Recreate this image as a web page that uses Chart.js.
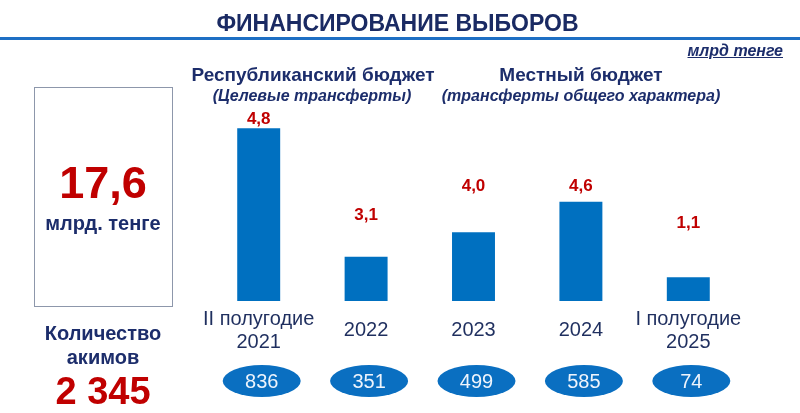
<!DOCTYPE html>
<html lang="ru">
<head>
<meta charset="utf-8">
<script src="https://cdn.jsdelivr.net/npm/chart.js@4.4.1/dist/chart.umd.min.js"></script>
<style>
  html, body { margin: 0; padding: 0; background: #ffffff; }
  #wrap { position: relative; width: 800px; height: 413px; overflow: hidden; font-family: "Liberation Sans", Arial, sans-serif; }
  #wrap canvas { position: absolute; left: 0; top: 0; }
  .t { position: absolute; white-space: nowrap; text-align: center; color: #1c2d6b; font-weight: bold; }
</style>
</head>
<body>
<div id="wrap">
  <canvas id="c" width="800" height="413"></canvas>
  <div class="t" style="left:0;width:795px;top:9px;line-height:28px;font-size:23px;color:#1a2a63;">ФИНАНСИРОВАНИЕ ВЫБОРОВ</div>
  <div style="position:absolute;left:0;top:37px;width:800px;height:3px;background:#1e6fc4;"></div>
  <div class="t" style="right:17px;top:41px;line-height:20px;font-size:16px;font-style:italic;text-decoration:underline;">млрд тенге</div>

  <div style="position:absolute;left:34px;top:87px;width:139px;height:220px;box-sizing:border-box;border:1px solid #8d97ab;"></div>
  <div class="t" style="left:3px;width:200px;top:158px;line-height:50px;font-size:45px;color:#c00000;">17,6</div>
  <div class="t" style="left:3px;width:200px;top:211px;line-height:24px;font-size:20px;">млрд. тенге</div>
  <div class="t" style="left:3px;width:200px;top:321px;line-height:24px;font-size:20px;">Количество</div>
  <div class="t" style="left:3px;width:200px;top:345px;line-height:24px;font-size:20px;">акимов</div>
  <div class="t" style="left:3px;width:200px;top:370px;line-height:42px;font-size:38px;color:#c00000;">2 345</div>

  <div class="t" style="left:113px;width:400px;top:63px;line-height:23px;font-size:19px;">Республиканский бюджет</div>
  <div class="t" style="left:112px;width:400px;top:86px;line-height:20px;font-size:16px;font-style:italic;">(Целевые трансферты)</div>
  <div class="t" style="left:381px;width:400px;top:63px;line-height:23px;font-size:19px;">Местный бюджет</div>
  <div class="t" style="left:381px;width:400px;top:86px;line-height:20px;font-size:16px;font-style:italic;">(трансферты общего характера)</div>
</div>
<script>
// Periods (x categories)
const periods = [["II полугодие", "2021"], "2022", "2023", "2024", ["I полугодие", "2025"]];
// Printed funding amounts, billion tenge
const amounts = [4.8, 3.1, 4.0, 4.6, 1.1];
// Bar heights as drawn in the reference slide (not to scale with the printed amounts), same units
const drawnHeights = [4.80, 1.23, 1.91, 2.76, 0.66];
// Number of akims per period
const akims = [836, 351, 499, 585, 74];

const FONT = '"Liberation Sans", Arial, sans-serif';

const fmt = v => v.toFixed(1).replace('.', ',');

const labelsPlugin = {
  id: 'slideLabels',
  afterDatasetsDraw(chart, args, opts) {
    const ctx = chart.ctx;
    const meta = chart.getDatasetMeta(0);
    ctx.save();
    ctx.font = 'bold 17px ' + FONT;
    ctx.fillStyle = '#c00000';
    ctx.textAlign = 'center';
    ctx.textBaseline = 'middle';
    meta.data.forEach((bar, i) => {
      ctx.fillText(fmt(amounts[i]), bar.x, bar.y - opts.lift[i]);
    });
    // akim count ellipses
    const xs = chart.scales.x;
    ctx.font = '20px ' + FONT;
    akims.forEach((n, i) => {
      const x = xs.getPixelForValue(i) + opts.ellipseShift;
      const y = opts.ellipseY;
      ctx.beginPath();
      ctx.ellipse(x, y, 39, 16, 0, 0, Math.PI * 2);
      ctx.fillStyle = '#0a6fc1';
      ctx.fill();
      ctx.fillStyle = '#eef4fc';
      ctx.fillText(String(n), x, y + 1);
    });
    ctx.restore();
  }
};

new Chart(document.getElementById('c'), {
  type: 'bar',
  data: {
    labels: periods,
    datasets: [{
      data: drawnHeights,
      backgroundColor: '#0070c0',
      borderWidth: 0,
      categoryPercentage: 1,
      barPercentage: 0.4
    }]
  },
  options: {
    responsive: false,
    animation: false,
    events: [],
    layout: { padding: { left: 205, right: 58, top: 85, bottom: 0 } },
    plugins: {
      legend: { display: false },
      tooltip: { enabled: false },
      slideLabels: { lift: [9, 41, 46, 15, 54], ellipseY: 381, ellipseShift: 3 }
    },
    scales: {
      x: {
        grid: { display: false, drawTicks: false },
        border: { display: false },
        afterFit(scale) { scale.height = 112; },
        ticks: {
          autoSkip: false,
          maxRotation: 0,
          padding: 18,
          crossAlign: 'center',
          color: '#1f2f5f',
          font: { family: FONT, size: 20, lineHeight: 1.17 }
        }
      },
      y: {
        display: false,
        min: 0,
        max: 6
      }
    }
  },
  plugins: [labelsPlugin]
});
</script>
</body>
</html>
